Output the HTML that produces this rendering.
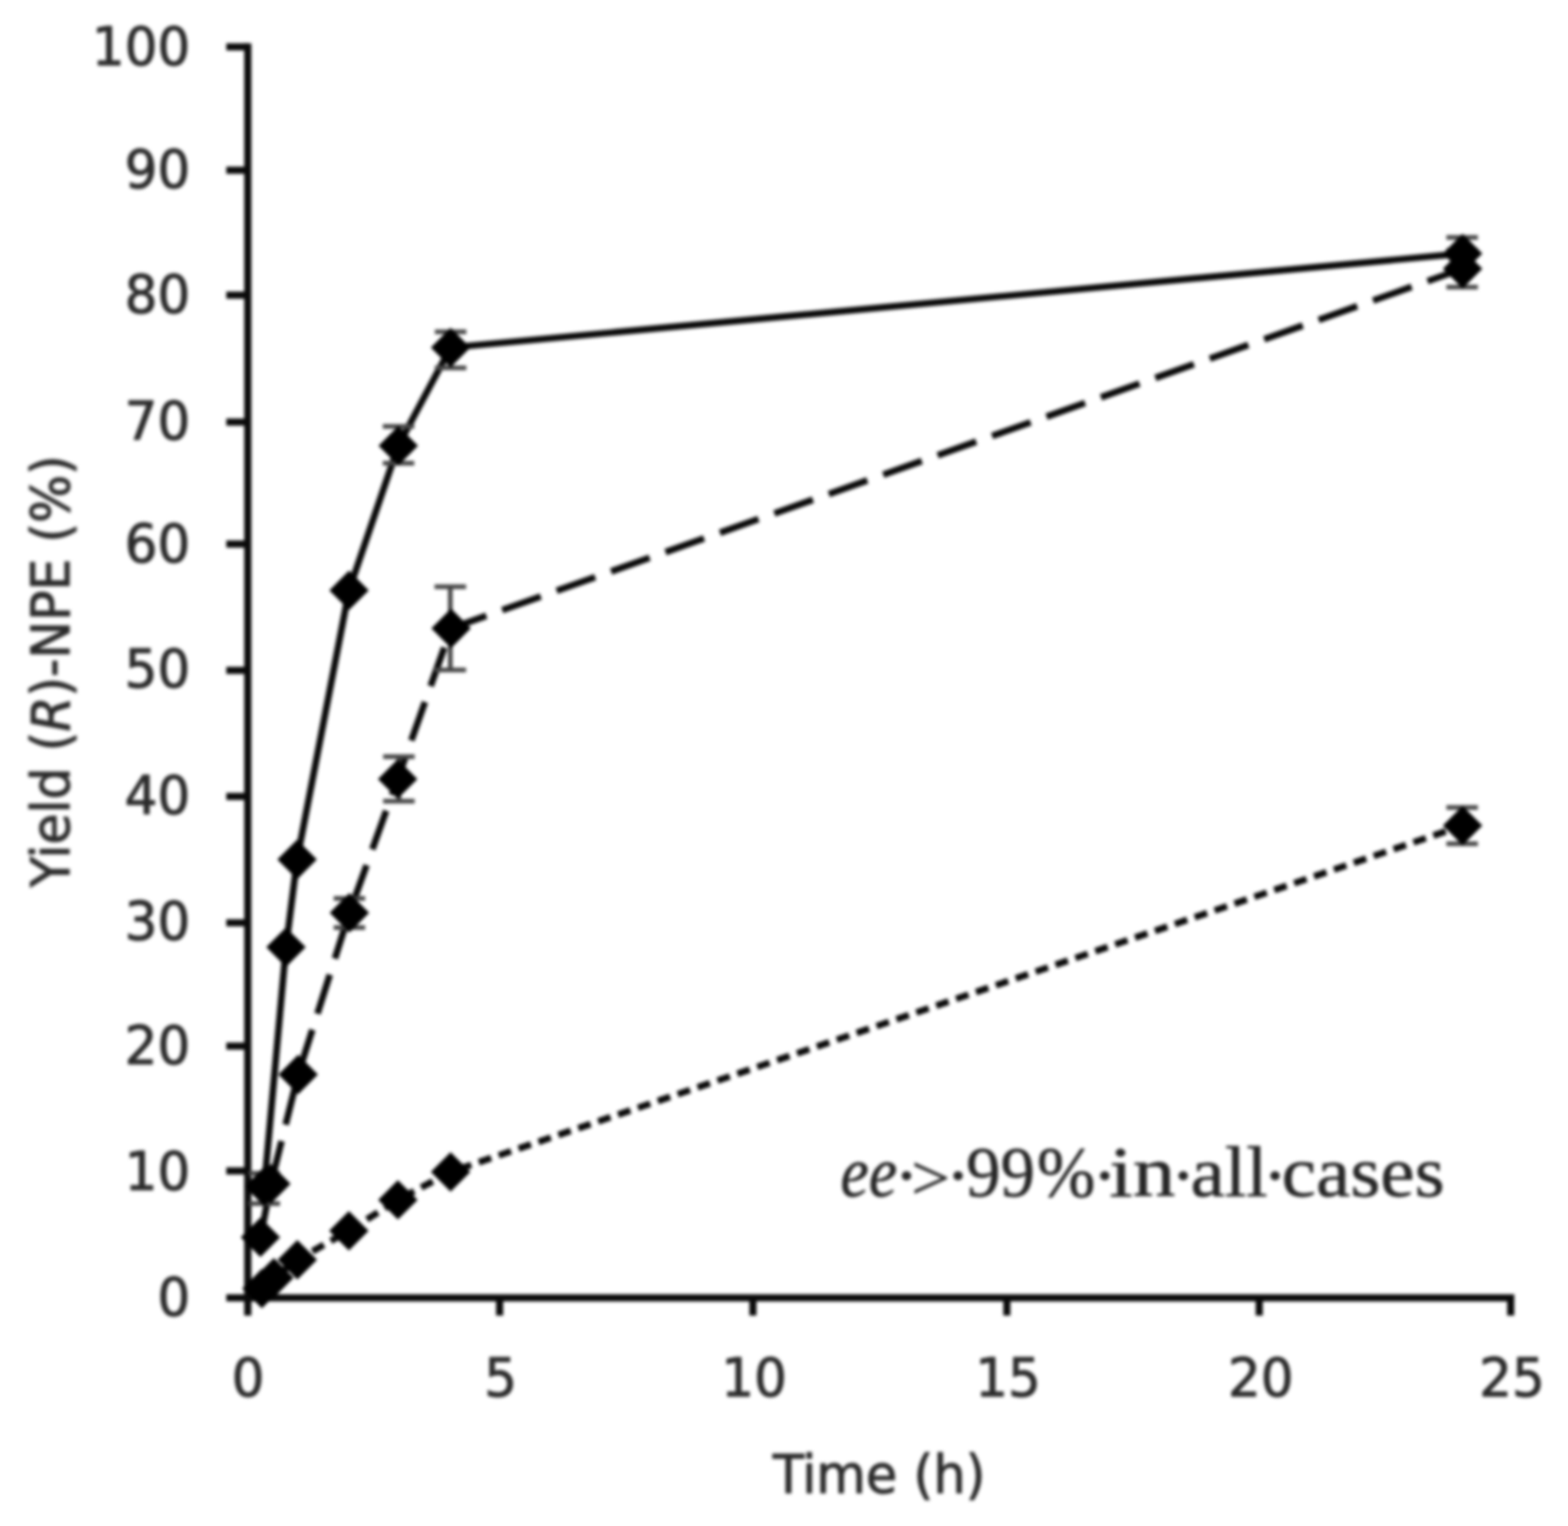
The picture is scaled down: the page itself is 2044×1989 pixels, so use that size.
<!DOCTYPE html>
<html lang="en"><head><meta charset="utf-8"><title>Yield (R)-NPE vs time</title>
<style>
html,body{margin:0;padding:0;background:#fff;}
body{width:2044px;height:1989px;overflow:hidden;}
svg{display:block;}
.t{font-family:"DejaVu Sans Condensed","DejaVu Sans","Liberation Sans",sans-serif;font-stretch:condensed;fill:#2b2b2b;stroke:#2b2b2b;stroke-width:1.2px;stroke-linejoin:round;}
.s{font-family:"Liberation Serif","DejaVu Serif",serif;fill:#262626;stroke:#262626;stroke-width:0.8px;stroke-linejoin:round;}
</style></head><body>
<svg width="2044" height="1989" viewBox="0 0 2044 1989" role="img" aria-label="Yield of (R)-NPE versus time">
<rect width="2044" height="1989" fill="#fff"/>
<defs><filter id="soft" x="0" y="0" width="100%" height="100%" filterUnits="userSpaceOnUse" color-interpolation-filters="sRGB"><feGaussianBlur stdDeviation="2"/></filter></defs>
<g id="chart" filter="url(#soft)">
<g stroke="#0a0a0a" stroke-width="9.3" fill="none" stroke-linecap="butt">
<path d="M323.0 56.5 V1714.7"/>
<path d="M295.0 1691.7 H1974.0"/>
<path d="M295 1526.2 H323.0"/>
<path d="M295 1363.5 H323.0"/>
<path d="M295 1202.8 H323.0"/>
<path d="M295 1038.1 H323.0"/>
<path d="M295 873.8 H323.0"/>
<path d="M295 709.1 H323.0"/>
<path d="M295 550.1 H323.0"/>
<path d="M295 384.7 H323.0"/>
<path d="M295 221.9 H323.0"/>
<path d="M295 61.1 H323.0"/>
<path d="M651.3 1691.7 V1714.7"/>
<path d="M981.5 1691.7 V1714.7"/>
<path d="M1312.5 1691.7 V1714.7"/>
<path d="M1641.5 1691.7 V1714.7"/>
<path d="M1969.3 1691.7 V1714.7"/>
</g>
<g fill="none" stroke="#0a0a0a" stroke-width="8.6" stroke-linejoin="round">
<path d="M344.5 1546.5 L372.8 1234.6 L387.3 1120.2 L455.0 769.4 L519.2 581.0 L587.4 453.0 L1906.6 330.4"/>
<path d="M339.5 1612.8 L353.1 1543.0 L388.7 1400.5 L455.5 1189.7 L518.4 1015.4 L588.0 819.0 L1906.6 350.3" stroke-dasharray="53.3 22"/>
<path d="M341.4 1679.5 L357.0 1665.5 L387.6 1642.0 L454.8 1604.2 L518.7 1563.9 L587.4 1527.5 L1906.6 1076.1" stroke-dasharray="17 10.4"/>
</g>
<g stroke="#454545" stroke-width="6" fill="none">
<path d="M587.4 432.4 V479.4 M566.9 432.4 h41 M566.9 479.4 h41"/>
<path d="M519.5 555.7 V603.7 M499.0 555.7 h41 M499.0 603.7 h41"/>
<path d="M1906.0 309.4 V351.4 M1885.5 309.4 h41 M1885.5 351.4 h41"/>
<path d="M1906.0 326.3 V374.3 M1885.5 326.3 h41 M1885.5 374.3 h41"/>
<path d="M587.0 764.7 V873.3 M566.5 764.7 h41 M566.5 873.3 h41"/>
<path d="M520.0 986.2 V1044.2 M499.5 986.2 h41 M499.5 1044.2 h41"/>
<path d="M455.5 1171.0 V1209.0 M435.0 1171.0 h41 M435.0 1209.0 h41"/>
<path d="M1906.0 1052.5 V1099.7 M1885.5 1052.5 h41 M1885.5 1099.7 h41"/>
<path d="M344.5 1529.3 V1568.7 M324.0 1529.3 h41 M324.0 1568.7 h41"/>
</g>
<g fill="#000">
<path d="M344.5 1520.8 l25.7 25.7 l-25.7 25.7 l-25.7 -25.7 z"/>
<path d="M372.8 1208.9 l25.7 25.7 l-25.7 25.7 l-25.7 -25.7 z"/>
<path d="M387.3 1094.5 l25.7 25.7 l-25.7 25.7 l-25.7 -25.7 z"/>
<path d="M455.0 743.7 l25.7 25.7 l-25.7 25.7 l-25.7 -25.7 z"/>
<path d="M519.2 555.3 l25.7 25.7 l-25.7 25.7 l-25.7 -25.7 z"/>
<path d="M587.4 427.3 l25.7 25.7 l-25.7 25.7 l-25.7 -25.7 z"/>
<path d="M1906.6 304.7 l25.7 25.7 l-25.7 25.7 l-25.7 -25.7 z"/>
<path d="M339.5 1587.1 l25.7 25.7 l-25.7 25.7 l-25.7 -25.7 z"/>
<path d="M353.1 1517.3 l25.7 25.7 l-25.7 25.7 l-25.7 -25.7 z"/>
<path d="M388.7 1374.8 l25.7 25.7 l-25.7 25.7 l-25.7 -25.7 z"/>
<path d="M455.5 1164.0 l25.7 25.7 l-25.7 25.7 l-25.7 -25.7 z"/>
<path d="M518.4 989.7 l25.7 25.7 l-25.7 25.7 l-25.7 -25.7 z"/>
<path d="M588.0 793.3 l25.7 25.7 l-25.7 25.7 l-25.7 -25.7 z"/>
<path d="M1906.6 324.6 l25.7 25.7 l-25.7 25.7 l-25.7 -25.7 z"/>
<path d="M341.4 1653.8 l25.7 25.7 l-25.7 25.7 l-25.7 -25.7 z"/>
<path d="M357.0 1639.8 l25.7 25.7 l-25.7 25.7 l-25.7 -25.7 z"/>
<path d="M387.6 1616.3 l25.7 25.7 l-25.7 25.7 l-25.7 -25.7 z"/>
<path d="M454.8 1578.5 l25.7 25.7 l-25.7 25.7 l-25.7 -25.7 z"/>
<path d="M518.7 1538.2 l25.7 25.7 l-25.7 25.7 l-25.7 -25.7 z"/>
<path d="M587.4 1501.8 l25.7 25.7 l-25.7 25.7 l-25.7 -25.7 z"/>
<path d="M1906.6 1050.4 l25.7 25.7 l-25.7 25.7 l-25.7 -25.7 z"/>
</g>
<g class="t" font-size="69.5">
<text transform="translate(248.0 1715.2) scale(1.075 1)" text-anchor="end">0</text>
<text transform="translate(248.0 1550.5) scale(1.075 1)" text-anchor="end">10</text>
<text transform="translate(248.0 1386.7) scale(1.075 1)" text-anchor="end">20</text>
<text transform="translate(248.0 1225.0) scale(1.075 1)" text-anchor="end">30</text>
<text transform="translate(248.0 1061.1) scale(1.075 1)" text-anchor="end">40</text>
<text transform="translate(248.0 896.4) scale(1.075 1)" text-anchor="end">50</text>
<text transform="translate(248.0 732.5) scale(1.075 1)" text-anchor="end">60</text>
<text transform="translate(248.0 573.1) scale(1.075 1)" text-anchor="end">70</text>
<text transform="translate(248.0 408.4) scale(1.075 1)" text-anchor="end">80</text>
<text transform="translate(248.0 245.3) scale(1.075 1)" text-anchor="end">90</text>
<text transform="translate(248.0 84.8) scale(1.075 1)" text-anchor="end">100</text>
<text transform="translate(323.3 1819.5) scale(1.075 1)" text-anchor="middle">0</text>
<text transform="translate(652.6 1819.5) scale(1.075 1)" text-anchor="middle">5</text>
<text transform="translate(983.0 1819.5) scale(1.075 1)" text-anchor="middle">10</text>
<text transform="translate(1314.0 1819.5) scale(1.075 1)" text-anchor="middle">15</text>
<text transform="translate(1643.4 1819.5) scale(1.075 1)" text-anchor="middle">20</text>
<text transform="translate(1971.0 1819.5) scale(1.075 1)" text-anchor="middle">25</text>
<text transform="translate(1146.0 1946.0) scale(1.062 1)" text-anchor="middle">Time (h)</text>
<text transform="translate(90.4 875.0) rotate(-90) scale(1.052 1)" text-anchor="middle">Yield (<tspan font-style="italic">R</tspan>)-NPE (%)</text>
</g>
<g class="s" font-size="97">
<text transform="translate(1095.6 1558.7) scale(0.860 0.95)" font-style="italic">ee</text>
<text transform="translate(1165.4 1562.7) scale(1.000 0.95)">·</text>
<text transform="translate(1188.0 1563.2) scale(0.924 0.86)">&gt;</text>
<text transform="translate(1232.8 1562.7) scale(1.000 0.95)">·</text>
<text transform="translate(1259.5 1558.7) scale(0.924 0.95)">99</text>
<text transform="translate(1351.7 1558.7) scale(0.942 0.95)">%</text>
<text transform="translate(1424.0 1562.7) scale(1.000 0.95)">·</text>
<text transform="translate(1445.9 1558.7) scale(1.143 0.95)">in</text>
<text transform="translate(1526.2 1562.7) scale(1.000 0.95)">·</text>
<text transform="translate(1552.1 1558.7) scale(1.035 0.95)">all</text>
<text transform="translate(1646.1 1562.7) scale(1.000 0.95)">·</text>
<text transform="translate(1670.8 1558.7) scale(1.038 0.95)">cases</text>
</g>
</g>
</svg>
</body></html>
